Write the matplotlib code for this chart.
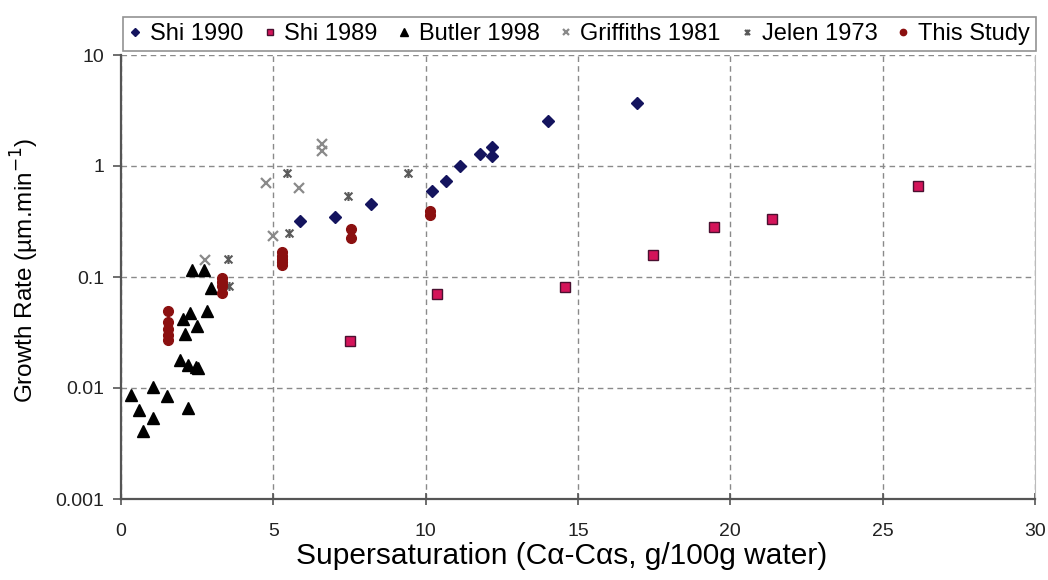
import matplotlib
matplotlib.use("Agg")
import matplotlib.pyplot as plt
from matplotlib.path import Path

# ---------------- data ----------------
shi1990_x = [5.87, 7.02, 8.2, 10.2, 10.66, 11.14, 11.78, 12.19, 12.19, 14.0, 16.93]
shi1990_y = [0.32, 0.35, 0.45, 0.60, 0.74, 1.0, 1.28, 1.49, 1.23, 2.54, 3.7]

shi1989_x = [7.52, 10.36, 14.56, 17.47, 19.46, 21.37, 26.17]
shi1989_y = [0.0265, 0.070, 0.082, 0.158, 0.28, 0.33, 0.665]

butler_x = [0.32, 0.60, 0.71, 1.06, 1.06, 1.52, 1.94, 2.19, 2.45, 2.52, 2.21,
            2.05, 2.26, 2.10, 2.48, 2.81, 2.95, 2.32, 2.72]
butler_y = [0.0087, 0.0064, 0.0041, 0.0103, 0.0054, 0.0085, 0.0179, 0.0161,
            0.0156, 0.0150, 0.0066, 0.0416, 0.047, 0.0305, 0.036, 0.049, 0.079,
            0.116, 0.116]

griffiths_x = [2.76, 4.76, 5.0, 5.85, 6.59, 6.59]
griffiths_y = [0.142, 0.708, 0.235, 0.63, 1.58, 1.37]

jelen_x = [3.52, 3.55, 5.44, 5.51, 7.44, 9.43]
jelen_y = [0.144, 0.083, 0.86, 0.248, 0.537, 0.86]

study_x = [1.55, 1.55, 1.55, 1.55, 1.55,
           3.30, 3.30, 3.30, 3.30,
           5.27, 5.27, 5.27, 5.27, 5.27,
           7.55, 7.55,
           10.14, 10.14]
study_y = [0.049, 0.039, 0.034, 0.030, 0.027,
           0.097, 0.090, 0.083, 0.072,
           0.168, 0.155, 0.145, 0.136, 0.128,
           0.27, 0.225,
           0.395, 0.36]

x_ticks = [0, 5, 10, 15, 20, 25, 30]
y_ticks = [0.001, 0.01, 0.1, 1, 10]
y_tick_labels = ["0.001", "0.01", "0.1", "1", "10"]

# ---------------- style ----------------
plt.rcParams['font.family'] = ['Liberation Sans', 'DejaVu Sans']

fig = plt.figure(figsize=(10.48, 5.80), dpi=100)
ax = fig.add_axes([121 / 1048, 1 - 499 / 580, (1035 - 121) / 1048, (499 - 55) / 580])

star = Path([(-1, -1), (1, 1), (-1, 1), (1, -1), (0, -1.15), (0, 1.15)],
            [Path.MOVETO, Path.LINETO, Path.MOVETO, Path.LINETO, Path.MOVETO, Path.LINETO])

ax.plot(shi1990_x, shi1990_y, linestyle='none', marker='D', markersize=6.5,
        color='#14145e', label='Shi 1990', zorder=3)
ax.plot(shi1989_x, shi1989_y, linestyle='none', marker='s', markersize=7,
        markerfacecolor='#d4145a', markeredgecolor='#4a1030', markeredgewidth=1,
        label='Shi 1989', zorder=3)
ax.plot(butler_x, butler_y, linestyle='none', marker='^', markersize=8.5,
        color='black', label='Butler 1998', zorder=3)
ax.plot(griffiths_x, griffiths_y, linestyle='none', marker='x', markersize=7,
        markeredgewidth=1.6, color='#8a8a8a', label='Griffiths 1981', zorder=3)
ax.plot(jelen_x, jelen_y, linestyle='none', marker=star, markersize=6.5,
        markeredgewidth=1.5, color='#5a5a5a', markerfacecolor='none',
        label='Jelen 1973', zorder=3)
ax.plot(study_x, study_y, linestyle='none', marker='o', markersize=7,
        color='#8b1010', label='This Study', zorder=3)

ax.set_yscale('log')
ax.set_xlim(0, 30)
ax.set_ylim(0.001, 10)
ax.set_xticks(x_ticks)
ax.set_xticklabels([str(t) for t in x_ticks])
ax.set_yticks(y_ticks)
ax.set_yticklabels(y_tick_labels)
ax.yaxis.set_minor_locator(matplotlib.ticker.NullLocator())

ax.grid(True, which='major', color='#8a8a8a', linestyle=(0, (4, 3)), linewidth=1.0)
ax.set_axisbelow(True)

ax.spines['top'].set_visible(False)
ax.spines['right'].set_color('#bbbbbb')
ax.spines['left'].set_color('#555555')
ax.spines['bottom'].set_color('#555555')
ax.spines['left'].set_linewidth(1.6)
ax.spines['bottom'].set_linewidth(1.6)

ax.tick_params(axis='x', direction='inout', length=8, width=1.2, color='#555555',
               labelsize=14, pad=13, labelcolor='#222222')
ax.tick_params(axis='y', direction='out', length=6, width=1.2, color='#555555',
               labelsize=14, pad=6, labelcolor='#222222')

ax.set_xlabel('Supersaturation (C\u03b1-C\u03b1s, g/100g water)', fontsize=21.5)
ax.xaxis.set_label_coords(0.4825, -0.097)
ax.set_ylabel('Growth Rate (\u00b5m.min$^{-1}$)', fontsize=17.5)
ax.yaxis.set_label_coords(-0.087, 0.516)

leg = fig.legend(loc='center', bbox_to_anchor=(123 / 1048, 1 - 53 / 580, 913 / 1048, 38 / 580),
                 mode='expand', ncol=6, fontsize=17, frameon=True, fancybox=False,
                 handlelength=0.55, handletextpad=0.35, columnspacing=0.25,
                 markerscale=0.65, borderpad=0.25, borderaxespad=0)
leg.get_frame().set_edgecolor('#777777')
leg.get_frame().set_linewidth(1.2)

fig.savefig('out.png', dpi=100)
